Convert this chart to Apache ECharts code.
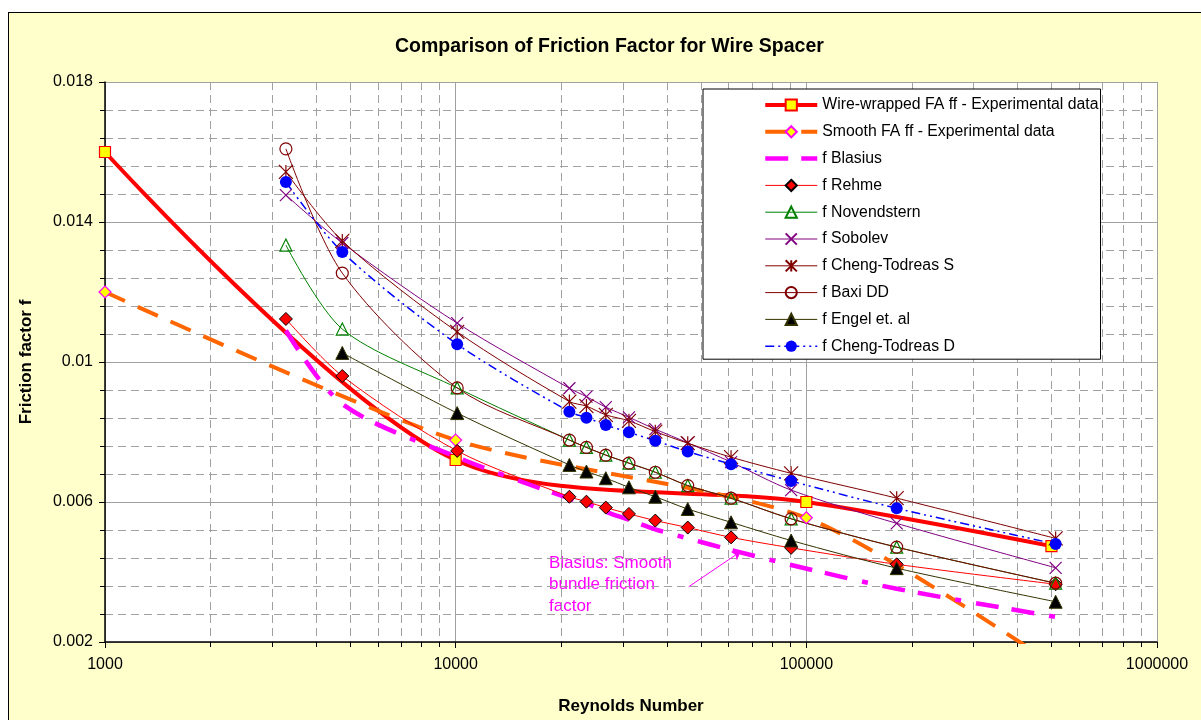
<!DOCTYPE html>
<html>
<head>
<meta charset="utf-8">
<script src="https://cdn.jsdelivr.net/npm/echarts@6/dist/echarts.min.js"></script>
<style>
  body { margin: 0; background: #ffffff; }
  .chart-frame {
    position: absolute; left: 8px; top: 12px; width: 1200px; height: 720px;
    background: #ffffcc; border: 1px solid #000000;
  }
  #view { position: absolute; left: 0; top: 0; width: 1201px; height: 720px; }
</style>
</head>
<body>
<div class="chart-frame"></div>
<div id="view"></div>
<script>
// experimental points
const reExp = [1000, 10000, 100000, 500000];
const fWireWrapped = [0.016, 0.0072, 0.006, 0.00474];
const fSmoothFA = [0.012, 0.00777, 0.00555, 0.0014];

// correlation points
const reCorr = [3280, 4750, 10100, 21100, 23600, 26800, 31200, 37100, 45900, 61000, 90500, 181000, 514000];
const fBlasius = [0.0109, 0.0088, 0.00728, 0.0061, 0.00596, 0.00572, 0.00549, 0.00522, 0.00496, 0.00463, 0.0042, 0.00352, 0.00272];
const fRehme = [0.01123, 0.0096, 0.00746, 0.00615, 0.00601, 0.00584, 0.00566, 0.00547, 0.00527, 0.00499, 0.00469, 0.00422, 0.00365];
const fNovendstern = [0.01334, 0.01094, 0.00926, 0.00777, 0.00756, 0.00734, 0.00711, 0.00685, 0.00647, 0.00611, 0.00552, 0.00471, 0.00368];
const fSobolev = [0.01477, 0.0134, 0.01111, 0.00925, 0.00901, 0.00871, 0.00842, 0.00808, 0.00769, 0.00714, 0.00634, 0.00539, 0.00412];
const fChengTodreasS = [0.01543, 0.01346, 0.01086, 0.00887, 0.00874, 0.00849, 0.00832, 0.00801, 0.00768, 0.00728, 0.00682, 0.00611, 0.00496];
const fBaxi = [0.01609, 0.01254, 0.00926, 0.00777, 0.00756, 0.00734, 0.00711, 0.00685, 0.00647, 0.00611, 0.00552, 0.00471, 0.00368];
const fEngel = [null, 0.01026, 0.00854, 0.00706, 0.00687, 0.00668, 0.00642, 0.00615, 0.0058, 0.00542, 0.0049, 0.00411, 0.00315];
const fChengTodreasD = [0.01514, 0.01314, 0.01051, 0.00858, 0.00841, 0.0082, 0.00799, 0.00775, 0.00744, 0.00708, 0.0066, 0.00582, 0.0048];

const names = [
  "Wire-wrapped FA ff - Experimental data",
  "Smooth FA ff - Experimental data",
  "f Blasius",
  "f Rehme",
  "f Novendstern",
  "f Sobolev",
  "f Cheng-Todreas S",
  "f Baxi DD",
  "f Engel et. al",
  "f Cheng-Todreas D",
];

const FONT = '"Liberation Sans", Arial, sans-serif';
const X_PATH = "path://M0,0L10,10M10,0L0,10";
const STAR_PATH = "path://M0,0L10,10M10,0L0,10M5,0L5,10";
const CIRCLE_PATH = "path://M0,5A5,5,0,1,1,10,5A5,5,0,1,1,0,5Z";
const TRI_PATH = "path://M5,0L10,9L0,9Z";
const CLEAR = "rgba(0,0,0,0)";

function pairs(xs, ys) {
  return xs.map((x, i) => [x, ys[i]]).filter((p) => p[1] != null);
}

function lineSeries(name, data, lineStyle, symbol, symbolSize, itemStyle, smooth) {
  return {
    name: name,
    type: "line",
    smooth: smooth == null ? 0.3 : smooth,
    data: data,
    lineStyle: lineStyle,
    symbol: symbol,
    symbolSize: symbolSize,
    itemStyle: itemStyle,
    emphasis: { disabled: true },
  };
}

let seriesList = [
  lineSeries(names[0], pairs(reExp, fWireWrapped),
    { color: "#ff0000", width: 4 }, "rect", 11,
    { color: "#ffff00", borderColor: "#ff0000", borderWidth: 1.2 }, 0.3),
  lineSeries(names[1], pairs(reExp, fSmoothFA),
    { color: "#ff6600", width: 4, type: [22, 14] }, "diamond", 12,
    { color: "#ffff00", borderColor: "#ff00ff", borderWidth: 1.2 }, 0.25),
  lineSeries(names[2], pairs(reCorr, fBlasius),
    { color: "#ff00ff", width: 4.5, type: [23, 13, 23, 15, 6, 15] }, "circle", 1,
    { color: CLEAR, borderWidth: 0 }),
  lineSeries(names[3], pairs(reCorr, fRehme),
    { color: "#ff0000", width: 1 }, "diamond", 13,
    { color: "#ff0000", borderColor: "#000000", borderWidth: 1 }),
  lineSeries(names[4], pairs(reCorr, fNovendstern),
    { color: "#008000", width: 1 }, TRI_PATH, 12,
    { color: CLEAR, borderColor: "#008000", borderWidth: 1.2 }),
  lineSeries(names[5], pairs(reCorr, fSobolev),
    { color: "#800080", width: 1 }, X_PATH, 12,
    { color: CLEAR, borderColor: "#800080", borderWidth: 1.2 }),
  lineSeries(names[6], pairs(reCorr, fChengTodreasS),
    { color: "#800000", width: 1 }, STAR_PATH, 14,
    { color: CLEAR, borderColor: "#800000", borderWidth: 1.2 }),
  lineSeries(names[7], pairs(reCorr, fBaxi),
    { color: "#800000", width: 1 }, CIRCLE_PATH, 12,
    { color: CLEAR, borderColor: "#800000", borderWidth: 1.2 }),
  lineSeries(names[8], pairs(reCorr, fEngel),
    { color: "#333300", width: 1 }, "triangle", 13,
    { color: "#000000", borderColor: "#333300", borderWidth: 1 }),
  lineSeries(names[9], pairs(reCorr, fChengTodreasD),
    { color: "#0000ff", width: 1.5, type: [9, 4, 2, 4, 2, 4] }, "circle", 12,
    { color: "#0000ff" }),
];
seriesList[2].showSymbol = false;

// arrow to the Blasius curve
seriesList[2].markLine = {
  silent: true,
  symbol: ["none", "arrow"],
  symbolSize: 8,
  label: { show: false },
  lineStyle: { color: "#ff00ff", width: 1, type: "solid" },
  data: [[{ coord: [46200, 0.00358] }, { coord: [64900, 0.00458] }]],
};

let myChart = echarts.init(document.getElementById("view"), null, { renderer: "canvas" });

let gridColor = "#a0a0a0";

let option = {
  animation: false,
  backgroundColor: "transparent",
  textStyle: { fontFamily: FONT },
  title: {
    text: "Comparison of Friction Factor for Wire Spacer",
    left: 390,
    top: 32,
    textStyle: { fontSize: 19.5, fontWeight: "bold", color: "#000", fontFamily: FONT },
  },
  legend: {
    data: names,
    orient: "vertical",
    left: 703,
    top: 89,
    padding: [8, 2, 5, 60],
    itemWidth: 52,
    itemHeight: 14,
    itemGap: 10.8,
    backgroundColor: "#ffffff",
    borderColor: "#000000",
    borderWidth: 1,
    borderRadius: 0,
    selectedMode: false,
    lineStyle: { width: "inherit" },
    textStyle: { fontSize: 15.8, color: "#000", fontFamily: FONT },
  },
  grid: {
    left: 105,
    right: 44,
    top: 82,
    bottom: 77,
    show: true,
    backgroundColor: "#ffffff",
    borderWidth: 0,
  },
  xAxis: {
    type: "log",
    logBase: 10,
    min: 1000,
    max: 1000000,
    name: "Reynolds Number",
    nameLocation: "middle",
    nameGap: 56,
    nameTextStyle: { fontSize: 17, fontWeight: "bold", color: "#000", fontFamily: FONT },
    axisLine: { lineStyle: { color: "#000", width: 1.5 } },
    axisTick: { show: true, length: 6, lineStyle: { color: "#000" } },
    minorTick: { show: true, splitNumber: 9, length: 5, lineStyle: { color: "#000" } },
    axisLabel: {
      fontSize: 16, color: "#000", margin: 15, fontFamily: FONT,
      formatter: (v) => String(Math.round(v)),
    },
    splitLine: { show: true, lineStyle: { color: gridColor, width: 1 } },
    minorSplitLine: { show: true, lineStyle: { color: gridColor, width: 1, type: [8, 5] } },
  },
  yAxis: {
    type: "value",
    min: 0.002,
    max: 0.018,
    interval: 0.004,
    name: "Friction factor f",
    nameLocation: "middle",
    nameGap: 70,
    nameTextStyle: { fontSize: 17, fontWeight: "bold", color: "#000", fontFamily: FONT },
    axisLine: { show: true, lineStyle: { color: "#000", width: 1.5 } },
    axisTick: { show: true, length: 6, lineStyle: { color: "#000" } },
    minorTick: { show: true, splitNumber: 5, length: 5, lineStyle: { color: "#000" } },
    axisLabel: { fontSize: 16, color: "#000", margin: 12, fontFamily: FONT },
    splitLine: { show: true, lineStyle: { color: gridColor, width: 1 } },
    minorSplitLine: { show: true, lineStyle: { color: gridColor, width: 1, type: [8, 5] } },
  },
  graphic: [
    {
      type: "text",
      left: 549,
      top: 552,
      silent: true,
      style: {
        text: "Blasius: Smooth\nbundle friction\nfactor",
        fill: "#ff00ff",
        font: '17px "Liberation Sans", Arial, sans-serif',
        lineHeight: 21.7,
      },
    },
  ],
  series: seriesList,
};

myChart.setOption(option);
</script>
</body>
</html>
